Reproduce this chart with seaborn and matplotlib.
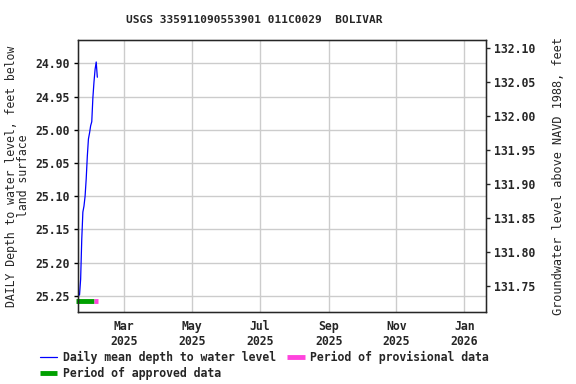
import matplotlib
matplotlib.use("Agg")
import matplotlib.pyplot as plt
import matplotlib.dates as mdates
import numpy as np
import pandas as pd
import seaborn as sns

# daily mean depth to water (feet below land surface)
dates = pd.date_range("2025-01-20", "2025-02-05", freq="D")
depth = [25.249, 25.225, 25.165, 25.124, 25.115, 25.100, 25.074, 25.040,
         25.014, 25.005, 24.994, 24.988, 24.952, 24.928, 24.909,
         24.898, 24.921]

# data status periods
approved_start, approved_end = "2025-01-17", "2025-02-02"
provisional_start, provisional_end = "2025-02-02", "2025-02-06"
status_level = 25.258

x_ticks = pd.to_datetime(["2025-03-01", "2025-05-01", "2025-07-01",
                          "2025-09-01", "2025-11-01", "2026-01-01"])

df = pd.DataFrame({"date": dates, "depth": depth})

sns.set_style("white")
plt.rcParams["font.family"] = ["DejaVu Sans Mono"]
plt.rcParams["font.weight"] = "bold"
plt.rcParams["font.size"] = 8.3

fig = plt.figure(figsize=(5.76, 3.84), dpi=100)
ax = fig.add_axes([78 / 576, 1 - 312 / 384, 408 / 576, 272 / 384])

sns.lineplot(data=df, x="date", y="depth", ax=ax, color="#0000ff",
             linewidth=0.9, label="Daily mean depth to water level")

# status bars
ax.plot(pd.to_datetime([approved_start, approved_end]), [status_level] * 2,
        color="#00a000", linewidth=3.5, solid_capstyle="butt",
        label="Period of approved data", clip_on=False)
ax.plot(pd.to_datetime([provisional_start, provisional_end]), [status_level] * 2,
        color="#ff44dd", linewidth=3.5, solid_capstyle="butt",
        label="Period of provisional data")

ax.set_xlim(pd.Timestamp("2025-01-18 15:00"), pd.Timestamp("2026-01-20 12:00"))
ax.set_ylim(25.2745, 24.8649)
ax.set_yticks([24.90, 24.95, 25.00, 25.05, 25.10, 25.15, 25.20, 25.25])
ax.yaxis.set_major_formatter(matplotlib.ticker.FormatStrFormatter("%.2f"))
ax.set_xticks(x_ticks)
ax.xaxis.set_major_formatter(mdates.DateFormatter("%b\n%Y"))
ax.grid(True, color="#cccccc", linewidth=1)
ax.tick_params(axis="both", length=3, width=1, color="black", pad=3)
for s in ax.spines.values():
    s.set_color("black")
    s.set_linewidth(1)
ax.set_xlabel("")
ax.set_ylabel("DAILY Depth to water level, feet below\nland surface",
              linespacing=0.9, labelpad=4)
fig.text(254.5 / 576, 1 - 20 / 384, "USGS 335911090553901 011C0029  BOLIVAR",
         fontsize=8, ha="center", va="center")

ax2 = ax.twinx()
ax2.set_ylim(131.7113, 132.1118)
ax2.set_yticks([131.75, 131.80, 131.85, 131.90, 131.95, 132.00, 132.05, 132.10])
ax2.yaxis.set_major_formatter(matplotlib.ticker.FormatStrFormatter("%.2f"))
ax2.tick_params(axis="y", length=3, width=1, pad=3)
ax2.set_ylabel("Groundwater level above NAVD 1988, feet", fontsize=8.6,
               labelpad=12)

handles, labels = ax.get_legend_handles_labels()
ax.legend(handles, labels,
          loc="upper left", bbox_to_anchor=(-0.104, -0.125), ncol=2,
          frameon=False, handlelength=1.5, handletextpad=0.5,
          columnspacing=0.95, labelspacing=0.3, borderaxespad=0)

fig.savefig("out.png", dpi=100)
